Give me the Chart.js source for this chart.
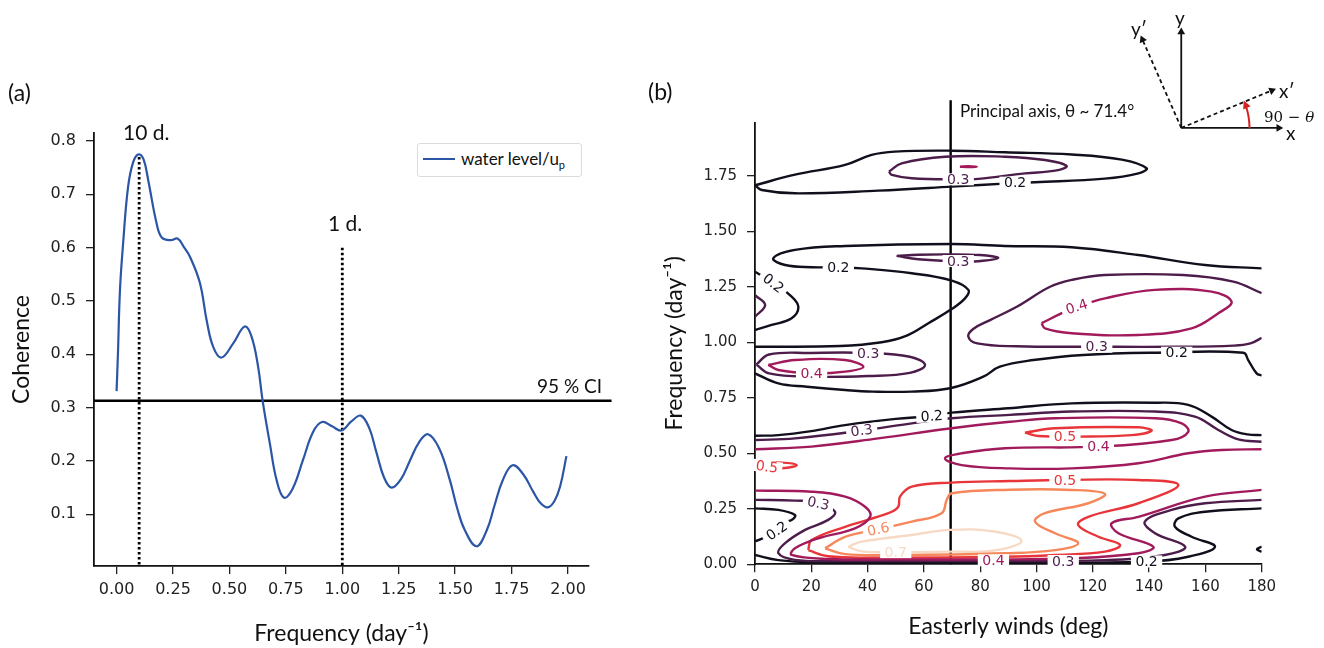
<!DOCTYPE html>
<html><head><meta charset="utf-8">
<script src="https://cdn.jsdelivr.net/npm/chart.js@4.4.1/dist/chart.umd.min.js"></script>
<style>
html,body{margin:0;padding:0;background:#fff;}
#root{position:relative;width:1324px;height:648px;overflow:hidden;font-family:Lato,"Open Sans",sans-serif;color:#111;}
.box{position:absolute;}
.t{position:absolute;white-space:nowrap;line-height:1;transform:translateY(-50%);}
</style></head><body>
<div id="root">
  <div class="box" style="left:0;top:0;width:640px;height:648px"><canvas id="ca"></canvas></div>
  <div class="box" style="left:640px;top:0;width:684px;height:648px"><canvas id="cb"></canvas></div>
  <div class="box" style="left:1128px;top:18px;width:165px;height:124px"><canvas id="cc"></canvas></div>

  <div class="t" style="left:8px;top:92px;font-size:23px">(a)</div>
  <div class="t" style="left:648px;top:91px;font-size:23px">(b)</div>
  <div class="t" style="left:123px;top:131px;font-size:21px">10 d.</div>
  <div class="t" style="left:328px;top:222px;font-size:21px">1 d.</div>
  <div class="t" style="left:537px;top:385px;font-size:19px">95 % CI</div>

  <div style="position:absolute;left:417px;top:143px;width:163px;height:32px;border:1px solid #dcdcdc;border-radius:3px;background:#fff;"></div>
  <div style="position:absolute;left:423px;top:158px;width:32px;height:0;border-top:2px solid #2b55a5;"></div>
  <div class="t" style="left:461px;top:160px;font-size:17px">water level/u<sub style="font-size:11px">p</sub></div>

  <div class="t" style="left:960px;top:110px;font-size:17px">Principal axis, θ ~ 71.4°</div>
  <div class="t" style="left:1175px;top:17px;font-size:19px">y</div>
  <div class="t" style="left:1286px;top:132px;font-size:19px">x</div>
  <div class="t" style="left:1279px;top:90px;font-size:19px">x′</div>
  <div class="t" style="left:1131px;top:28px;font-size:19px">y′</div>
  <div class="t" style="left:1264px;top:117px;font-size:15px;font-family:'DejaVu Serif','Liberation Serif',serif">90 − <i>θ</i></div>
</div>
<script>
// ---------------- Panel (a) data ----------------
const freqA = [0,0.006,0.015,0.029,0.051,0.074,0.098,0.12,0.14,0.177,0.20,0.24,0.27,0.30,0.325,0.369,0.399,0.428,0.465,0.516,0.568,0.598,0.627,0.647,0.679,0.709,0.742,0.78,0.826,0.87,0.91,0.955,0.996,1.04,1.082,1.12,1.15,1.185,1.218,1.26,1.30,1.34,1.38,1.43,1.476,1.51,1.542,1.594,1.64,1.674,1.71,1.754,1.80,1.845,1.88,1.911,1.94,1.965,1.993];
const coherence = [0.331,0.40,0.52,0.608,0.714,0.761,0.775,0.765,0.727,0.646,0.619,0.614,0.617,0.60,0.583,0.534,0.464,0.414,0.394,0.420,0.452,0.433,0.377,0.313,0.233,0.164,0.131,0.148,0.202,0.254,0.273,0.265,0.257,0.274,0.285,0.261,0.218,0.169,0.150,0.166,0.201,0.235,0.250,0.223,0.165,0.110,0.071,0.040,0.070,0.116,0.163,0.192,0.176,0.143,0.120,0.113,0.125,0.152,0.209];
const xTicksA = [0,0.25,0.5,0.75,1.0,1.25,1.5,1.75,2.0];
const yTicksA = [0.1,0.2,0.3,0.4,0.5,0.6,0.7,0.8];
const ciLevel = 0.313;
const ciRange = [-0.1, 2.193];
const dayLineFreq = [0.1, 1.0];
const dayLineTop = [0.77, 0.6];

// ---------------- Panel (b) data: contour lines [deg, freq] ----------------
const c02_top = [[0,1.707],[14.2,1.755],[32,1.799],[41.4,1.844],[49.7,1.859],[69.9,1.863],[88.8,1.856],[112.5,1.846],[130.3,1.823],[139.1,1.784],[136.2,1.761],[124.3,1.737],[99.5,1.721],[90,1.716],[69.9,1.701],[43.8,1.683],[14.2,1.671],[2.4,1.686],[0,1.707]];
const c03_top = [[47.6,1.769],[52.1,1.806],[67.5,1.836],[88.8,1.836],[103,1.821],[110.7,1.794],[106.6,1.773],[95.9,1.761],[79.3,1.736],[72.2,1.734],[55.7,1.739],[48.6,1.754],[47.6,1.769]];
const c04_top = [[72.8,1.791],[75.8,1.793],[78.8,1.791],[75.8,1.789],[72.8,1.791]];
const c02_mid = [[180,1.333],[159.9,1.348],[136.2,1.393],[112.5,1.428],[88.8,1.434],[69.9,1.443],[32,1.434],[14.2,1.416],[6.5,1.378],[10.7,1.348],[20.1,1.338],[29.6,1.338],[37.9,1.333],[55.7,1.311],[69.9,1.278],[75.8,1.236],[74.6,1.198],[69.3,1.145],[61.6,1.086],[53.9,1.03],[45,1.0],[30.2,0.983],[0,0.98]];
const c02_left = [[0,1.318],[6.5,1.266],[12.4,1.213],[15.4,1.160],[13,1.108],[5.9,1.078],[0,1.055]];
const c03_left = [[0,1.213],[3.6,1.168],[0,1.115]];
const c03_mid = [[50.3,1.389],[58,1.394],[67.5,1.396],[80,1.393],[86.4,1.380],[79.3,1.365],[72.2,1.365],[58,1.374],[50.3,1.389]];
const c03_right = [[180,1.221],[169.9,1.273],[152,1.303],[124.3,1.303],[112.5,1.281],[104.8,1.25],[93,1.16],[83.5,1.1],[77.5,1.06],[75.8,1.025],[79,0.995],[93,0.982],[121.4,0.98],[150,0.98],[170,0.985],[176,0.995],[180,1.02]];
const c04_right = [[101.8,1.086],[109,1.131],[114.3,1.160],[124.3,1.198],[142.1,1.236],[162.2,1.228],[169.3,1.183],[164.6,1.131],[155.1,1.063],[136.2,1.033],[112.5,1.041],[103,1.063],[101.8,1.086]];
const c03_low = [[0.5,0.9],[5,0.945],[20,0.952],[40,0.952],[55,0.935],[60.4,0.898],[55,0.862],[40,0.848],[20,0.845],[5,0.86],[0.5,0.9]];
const c04_low = [[4.7,0.898],[14.2,0.920],[32,0.920],[38.5,0.89],[32,0.868],[20.1,0.860],[8.3,0.875],[4.7,0.898]];
const c02_low = [[0,0.86],[8.3,0.815],[18.4,0.80],[32,0.785],[42,0.778],[55.7,0.778],[69.3,0.793],[81.1,0.845],[87,0.89],[98.9,0.92],[116.6,0.943],[142.7,0.953],[173.5,0.953],[175.2,0.92],[178.2,0.86],[180,0.85]];
const c02_band = [[0,0.579],[8.3,0.582],[20,0.600],[32,0.627],[50,0.655],[62.8,0.668],[69.9,0.683],[90,0.703],[112.5,0.725],[142.1,0.728],[153.9,0.718],[162.2,0.665],[169.3,0.605],[175,0.585],[180,0.582]];
const c03_band = [[0,0.56],[14.2,0.567],[37.9,0.602],[55.7,0.635],[69.9,0.658],[90.6,0.673],[112.5,0.688],[142.1,0.688],[156.3,0.665],[164.6,0.605],[171.7,0.563],[180,0.552]];
const c04_band = [[0,0.518],[20.1,0.53],[43.8,0.567],[69.9,0.613],[90.6,0.642],[106.6,0.658],[142.1,0.658],[151.6,0.635],[153.9,0.597],[148,0.56],[122,0.53],[88.8,0.523],[73.4,0.5],[67.5,0.477],[73.4,0.447],[90.6,0.432],[112.5,0.432],[136.2,0.455],[153.9,0.5],[165.8,0.515],[180,0.518]];
const c05_band = [[95.9,0.593],[106.6,0.613],[136.2,0.617],[140.9,0.602],[133.8,0.582],[114.8,0.575],[100.6,0.578],[95.9,0.593]];
const c05_left = [[0,0.455],[9.5,0.458],[14.8,0.447],[10.7,0.434],[0,0.432]];
const c04_base = [[0,0.332],[20.1,0.327],[32,0.305],[39.1,0.259],[40.9,0.214],[35.5,0.162],[22.5,0.117],[14.2,0.072],[13,0.042],[26,0.024],[50,0.022],[84.7,0.022],[112.5,0.027],[136.2,0.05],[141.5,0.079],[129.1,0.14],[126.7,0.185],[136.2,0.214],[159.9,0.305],[180,0.335]];
const c03_base = [[0,0.29],[14.2,0.287],[22.5,0.278],[28.4,0.237],[26,0.2],[17.8,0.155],[10.7,0.095],[8.3,0.05],[14.2,0.02],[30,0.015],[80,0.015],[124.3,0.019],[145.6,0.042],[152.8,0.079],[142.1,0.14],[138.5,0.192],[148,0.245],[159.9,0.275],[180,0.29]];
const c02_bulge = [[0,0.252],[8.3,0.245],[14.2,0.222],[13,0.2],[9.5,0.185],[7.7,0.151],[1.2,0.109],[0,0.105]];
const c02_base = [[0,0.042],[8.3,0.019],[20.1,0.009],[80,0.008],[139.1,0.012],[153.9,0.034],[163.4,0.079],[155.1,0.124],[149.2,0.169],[150.4,0.207],[159.9,0.237],[180,0.252]];
const c02_edge = [[180,0.08],[178.3,0.068],[180,0.056]];
const c05_base = [[18.9,0.064],[20.1,0.109],[32,0.169],[47.4,0.23],[50.9,0.259],[51.5,0.305],[55.7,0.350],[69.9,0.368],[90.6,0.375],[110.1,0.38],[136.2,0.38],[150.4,0.357],[136.2,0.275],[118.4,0.214],[114.8,0.177],[122,0.124],[129.7,0.087],[124.3,0.057],[106.6,0.042],[88.8,0.034],[43.8,0.03],[26,0.036],[18.9,0.064]];
const c06_base = [[24.9,0.072],[32,0.124],[43.8,0.158],[55.7,0.192],[66.3,0.23],[68.1,0.29],[69.9,0.32],[90.6,0.336],[112.5,0.335],[124.3,0.317],[118.4,0.275],[103,0.23],[99.5,0.192],[106.6,0.14],[114.8,0.095],[106.6,0.064],[88.8,0.05],[49.7,0.042],[32,0.046],[24.9,0.072]];
const c07_base = [[33.1,0.079],[37.9,0.102],[55.7,0.132],[69.3,0.155],[85,0.148],[94.7,0.105],[85,0.062],[69.3,0.057],[50,0.055],[37.9,0.058],[33.1,0.079]];

const contourLines = [
  [c02_top,0.2],[c03_top,0.3],[c04_top,0.4],[c02_mid,0.2],[c02_left,0.2],[c03_left,0.3],[c03_mid,0.3],
  [c03_right,0.3],[c04_right,0.4],[c03_low,0.3],[c04_low,0.4],[c02_low,0.2],[c02_band,0.2],[c03_band,0.3],
  [c04_band,0.4],[c05_band,0.5],[c05_left,0.5],[c04_base,0.4],[c03_base,0.3],[c02_bulge,0.2],[c02_base,0.2],
  [c02_edge,0.2],[c05_base,0.5],[c06_base,0.6],[c07_base,0.7]
];
// contour labels: [text, deg, freq, level, rotation]
const contourLabels = [
  ['0.3',72.2,1.734,0.3,0],['0.2',92.4,1.719,0.2,0],['0.2',29.6,1.338,0.2,0],['0.2',6.5,1.266,0.2,38],
  ['0.3',72.2,1.366,0.3,0],['0.4',114.3,1.160,0.4,-18],['0.3',121.4,0.98,0.3,0],['0.2',149.8,0.953,0.2,0],
  ['0.3',40.2,0.952,0.3,0],['0.4',20.1,0.860,0.4,0],['0.2',62.8,0.668,0.2,-4],['0.3',37.9,0.603,0.3,-8],
  ['0.5',110.1,0.576,0.5,0],['0.4',122,0.53,0.4,0],['0.5',4.2,0.44,0.5,8],['0.3',22.5,0.275,0.3,12],
  ['0.2',7.7,0.151,0.2,-35],['0.5',110.1,0.38,0.5,0],['0.6',43.8,0.158,0.6,-12],['0.7',50,0.055,0.7,0],
  ['0.4',84.7,0.018,0.4,0],['0.3',109.5,0.015,0.3,0],['0.2',139.1,0.013,0.2,0]
];
const principalAxisDeg = 69.5;
const principalAxisSpan = [0, 2.09];
const xTicksB = [0,20,40,60,80,100,120,140,160,180];
const yTicksB = [0,0.25,0.5,0.75,1.0,1.25,1.5,1.75];

// ---------------- Inset (axes rotation sketch) ----------------
const insetOrigin = [0,0];
const insetX = [1.0,0], insetY = [0,1.0], insetXp = [0.929,0.391], insetYp = [-0.398,0.922];
const insetArcRadius = 0.70, insetArcAngleDeg = 22.8;

// ---------------- styles ----------------
const levelColor = {0.2:'#120f1c',0.3:'#4c1d4b',0.4:'#a11a5b',0.5:'#e8353a',0.6:'#f5875a',0.7:'#f7dac6'};
const tickFont = s => ({family:'DejaVu Sans', size:s});

function fixTicks(arr){ return s => { s.ticks = arr.map(v => ({value:v})); }; }

// ================= Chart (a) =================
new Chart(document.getElementById('ca'), {
  type:'line',
  data:{ datasets:[
    { data: freqA.map((f,i)=>({x:f,y:coherence[i]})), borderColor:'#2b55a5', borderWidth:2.2, pointRadius:0, tension:0.4, fill:false },
    { data: ciRange.map(x=>({x, y:ciLevel})), borderColor:'#000', borderWidth:2.6, pointRadius:0, clip:false },
    { data: [{x:dayLineFreq[0],y:dayLineTop[0]},{x:dayLineFreq[0],y:0.004}], borderColor:'#000', borderWidth:2.8, borderDash:[2.5,2.5], pointRadius:0 },
    { data: [{x:dayLineFreq[1],y:dayLineTop[1]},{x:dayLineFreq[1],y:0.004}], borderColor:'#000', borderWidth:2.8, borderDash:[2.5,2.5], pointRadius:0 }
  ]},
  options:{
    responsive:true, maintainAspectRatio:false, animation:false, devicePixelRatio:1,
    layout:{padding:{top:133,right:51,left:0,bottom:0}},
    plugins:{legend:{display:false}, tooltip:{enabled:false}},
    scales:{
      x:{ type:'linear', min:-0.1, max:2.093, afterBuildTicks:fixTicks(xTicksA), afterFit:s=>{s.height=82;},
        grid:{drawOnChartArea:false, drawTicks:true, tickLength:8, color:'#222', lineWidth:1.3},
        border:{display:true,color:'#111',width:1.8},
        ticks:{font:tickFont(16), color:'#222', padding:6, maxRotation:0, autoSkip:false, callback:v=>Number(v).toFixed(2)},
        title:{display:true, text:'Frequency (day⁻¹)', font:{family:'Lato',size:23}, color:'#111', padding:{top:0,bottom:1}} },
      y:{ type:'linear', min:0.003, max:0.815, afterBuildTicks:fixTicks(yTicksA), afterFit:s=>{s.width=94;},
        grid:{drawOnChartArea:false, drawTicks:true, tickLength:8, color:'#222', lineWidth:1.3},
        border:{display:true,color:'#111',width:1.8},
        ticks:{font:tickFont(16), color:'#222', padding:10, autoSkip:false, callback:v=>Number(v).toFixed(1)},
        title:{display:true, text:'Coherence', font:{family:'Lato',size:23}, color:'#111', padding:{top:8,bottom:0}} }
    }
  }
});

// ================= Chart (b) =================
const labelPlugin = {
  id:'contourLabels',
  afterDatasetsDraw(chart){
    const {ctx, scales:{x,y}} = chart;
    ctx.save();
    ctx.font = '14px "DejaVu Sans"';
    ctx.textAlign='center'; ctx.textBaseline='middle';
    contourLabels.forEach(([t,dx,fy,lv,rot])=>{
      const px = x.getPixelForValue(dx), py = y.getPixelForValue(fy);
      ctx.save(); ctx.translate(px,py); ctx.rotate(rot*Math.PI/180);
      const w = ctx.measureText(t).width + 9;
      ctx.fillStyle='#fff'; ctx.fillRect(-w/2,-6,w,12);
      ctx.fillStyle=levelColor[lv]; ctx.fillText(t,0,1);
      ctx.restore();
    });
    ctx.restore();
  }
};
const contourSets = contourLines.map(([pts,lv])=>({
  data: pts.map(p=>({x:p[0],y:p[1]})), showLine:true, borderColor:levelColor[lv], borderWidth:2.4,
  pointRadius:0, tension:0.4, fill:false
}));
contourSets.push({ data: principalAxisSpan.map(f=>({x:principalAxisDeg,y:f})), showLine:true, borderColor:'#000', borderWidth:2.4, pointRadius:0, clip:false });

new Chart(document.getElementById('cb'), {
  type:'scatter',
  data:{datasets:contourSets},
  plugins:[labelPlugin],
  options:{
    responsive:true, maintainAspectRatio:false, animation:false, devicePixelRatio:1,
    layout:{padding:{top:122.5,right:62.3,left:0,bottom:0}},
    plugins:{legend:{display:false}, tooltip:{enabled:false}},
    scales:{
      x:{ type:'linear', min:0, max:180, z:1, afterBuildTicks:fixTicks(xTicksB), afterFit:s=>{s.height=83.7;},
        grid:{drawOnChartArea:false, drawTicks:true, tickLength:8, color:'#222', lineWidth:1.3},
        border:{display:true,color:'#111',width:1.8},
        ticks:{font:tickFont(15), color:'#222', padding:6, maxRotation:0, autoSkip:false, callback:v=>String(v)},
        title:{display:true, text:'Easterly winds (deg)', font:{family:'Lato',size:23}, color:'#111', padding:{top:0,bottom:8}} },
      y:{ type:'linear', min:0, max:1.99, z:1, afterBuildTicks:fixTicks(yTicksB), afterFit:s=>{s.width=115;},
        grid:{drawOnChartArea:false, drawTicks:true, tickLength:8, color:'#222', lineWidth:1.3},
        border:{display:true,color:'#111',width:1.8},
        ticks:{font:tickFont(15), color:'#222', padding:10, autoSkip:false, callback:v=>Number(v).toFixed(2)},
        title:{display:true, text:'Frequency (day⁻¹)', font:{family:'Lato',size:23}, color:'#111', padding:{top:21,bottom:0}} }
    }
  }
});

// ================= Inset =================
const arcPlugin = {
  id:'insetArc',
  afterDatasetsDraw(chart){
    const {ctx, scales:{x,y}} = chart;
    const cx = x.getPixelForValue(insetOrigin[0]), cy = y.getPixelForValue(insetOrigin[1]);
    const r = x.getPixelForValue(insetArcRadius) - cx;
    const a = insetArcAngleDeg*Math.PI/180;
    ctx.save();
    ctx.strokeStyle='#d42020'; ctx.fillStyle='#d42020'; ctx.lineWidth=2;
    ctx.beginPath(); ctx.arc(cx,cy,r,-a+0.06,0); ctx.stroke();
    const ex = cx + r*Math.cos(a), ey = cy - r*Math.sin(a);
    ctx.translate(ex,ey); ctx.rotate(-a);
    ctx.beginPath(); ctx.moveTo(0,-1); ctx.lineTo(-4,7); ctx.lineTo(4,7); ctx.closePath(); ctx.fill();
    ctx.restore();
  }
};
function arrowSet(end, dashed, rot){
  return { data:[{x:insetOrigin[0],y:insetOrigin[1]},{x:end[0],y:end[1]}], showLine:true, borderColor:'#111', borderWidth:1.8,
    borderDash: dashed ? [4,3] : [], pointStyle:'triangle', pointRadius:[0,4.5], pointRotation:[0,rot],
    pointBackgroundColor:'#111', pointBorderColor:'#111', pointBorderWidth:0 };
}
new Chart(document.getElementById('cc'), {
  type:'scatter',
  data:{datasets:[ arrowSet(insetX,false,90), arrowSet(insetY,false,0), arrowSet(insetXp,true,90-insetArcAngleDeg), arrowSet(insetYp,true,-23.3) ]},
  plugins:[arcPlugin],
  options:{
    responsive:true, maintainAspectRatio:false, animation:false, devicePixelRatio:1,
    layout:{padding:0},
    plugins:{legend:{display:false}, tooltip:{enabled:false}},
    scales:{ x:{type:'linear',min:-0.5,max:1.1,display:false}, y:{type:'linear',min:-0.1,max:1.1,display:false} }
  }
});
</script>
</body></html>
